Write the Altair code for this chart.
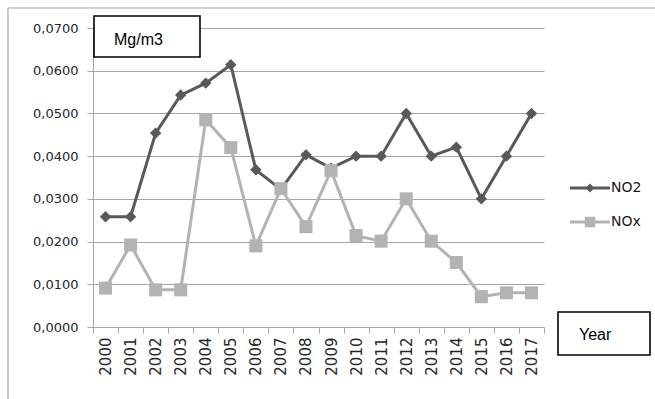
import altair as alt
import pandas as pd

years = [str(y) for y in range(2000, 2018)]
no2 = [0.0258, 0.0258, 0.0454, 0.0543, 0.0571, 0.0614, 0.0368, 0.0322, 0.0403, 0.0372,
       0.0400, 0.0400, 0.0500, 0.0400, 0.0421, 0.0300, 0.0400, 0.0500]
nox = [0.0091, 0.0192, 0.0087, 0.0087, 0.0485, 0.0420, 0.0190, 0.0324, 0.0235, 0.0366,
       0.0214, 0.0201, 0.0300, 0.0201, 0.0151, 0.0071, 0.0080, 0.0080]
series = ["NO2", "NOx"]
colors = ["#595959", "#b3b3b3"]
y_ticks = [0.0, 0.01, 0.02, 0.03, 0.04, 0.05, 0.06, 0.07]
unit_label = ["Mg/m3"]
x_label = ["Year"]

df = pd.DataFrame({
    "year": years * 2,
    "value": no2 + nox,
    "series": ["NO2"] * len(years) + ["NOx"] * len(years),
})

FONT = "DejaVu Sans"

x_enc = alt.X("year:O", bandPosition=0.5,
              scale=alt.Scale(type="band", paddingInner=0, paddingOuter=0),
              axis=alt.Axis(title=None, tickBand="extent", labelAngle=270,
                            labelFont=FONT, labelFontSize=15, labelColor="#262626",
                            labelPadding=4, tickSize=6, tickColor="#a6a6a6",
                            domainColor="#a6a6a6", grid=False))
y_enc = alt.Y("value:Q",
              scale=alt.Scale(domain=[0, 0.07], nice=False),
              axis=alt.Axis(title=None, values=y_ticks,
                            labelExpr="replace(format(datum.value, '.4f'), '.', ',')",
                            labelFont=FONT, labelFontSize=13, labelColor="#262626",
                            labelPadding=9, tickSize=6, tickColor="#a6a6a6",
                            domainColor="#a6a6a6", gridColor="#a6a6a6"))

color_scale = alt.Scale(domain=series, range=colors)

lines = alt.Chart(df).mark_line(strokeWidth=3).encode(
    x=x_enc, y=y_enc,
    color=alt.Color("series:N", scale=color_scale, legend=None),
)

points = alt.Chart(df).mark_point(filled=True, opacity=1).encode(
    x=x_enc, y=y_enc,
    color=alt.Color("series:N", scale=color_scale, legend=None),
    shape=alt.Shape("series:N", scale=alt.Scale(domain=series, range=["diamond", "square"]), legend=None),
    size=alt.Size("series:N", scale=alt.Scale(domain=series, range=[130, 170]), legend=None),
)

leg_no2 = "M-1,-0.075L1,-0.075L1,0.075L-1,0.075Z M0,-0.22L0.22,0L0,0.22L-0.22,0Z"
leg_nox = "M-1,-0.075L1,-0.075L1,0.075L-1,0.075Z M-0.26,-0.26L0.26,-0.26L0.26,0.26L-0.26,0.26Z"

legend_layer = alt.Chart(df).transform_filter("false").mark_point(filled=True, opacity=1).encode(
    x=x_enc, y=y_enc,
    color=alt.Color("series:N", scale=color_scale,
                    legend=alt.Legend(title=None, orient="none", legendX=477, legendY=150,
                                      symbolSize=1600, clipHeight=20, rowPadding=14,
                                      labelOffset=1, labelFont=FONT, labelFontSize=14,
                                      labelColor="#1a1a1a", symbolStrokeWidth=0,
                                      symbolOpacity=1, padding=0)),
    shape=alt.Shape("series:N", scale=alt.Scale(domain=series, range=[leg_no2, leg_nox]),
                    legend=alt.Legend(title=None, orient="none", legendX=477, legendY=150,
                                      symbolSize=1600, clipHeight=20, rowPadding=14,
                                      labelOffset=1, labelFont=FONT, labelFontSize=14,
                                      labelColor="#1a1a1a", symbolStrokeWidth=0,
                                      symbolOpacity=1, padding=0)),
)

unit_df = pd.DataFrame({"label": unit_label})
unit_box = alt.Chart(unit_df).mark_rect(fill="white", stroke="black", strokeWidth=1.6).encode(
    x=alt.value(1), x2=alt.value(107), y=alt.value(-12), y2=alt.value(29))
unit_text = alt.Chart(unit_df).mark_text(font="Liberation Sans", fontSize=16, align="left",
                                         baseline="middle", color="#000000").encode(
    x=alt.value(21), y=alt.value(12), text="label:N")

year_df = pd.DataFrame({"label": x_label})
year_box = alt.Chart(year_df).mark_rect(fill="white", stroke="black", strokeWidth=1.6).encode(
    x=alt.value(465), x2=alt.value(557), y=alt.value(284), y2=alt.value(327))
year_text = alt.Chart(year_df).mark_text(font="Liberation Sans", fontSize=16, align="left",
                                         baseline="middle", color="#000000").encode(
    x=alt.value(486), y=alt.value(307), text="label:N")

border_df = pd.DataFrame({"label": ["frame"]})
left_border = alt.Chart(border_df).mark_rule(color="#a6a6a6", strokeWidth=1.2).encode(
    x=alt.value(-85), y=alt.value(-20), y2=alt.value(380))
top_border = alt.Chart(border_df).mark_rule(color="#a6a6a6", strokeWidth=1.2).encode(
    x=alt.value(-85), x2=alt.value(570), y=alt.value(-20))

chart = alt.layer(
    left_border, top_border, lines, points, legend_layer,
    unit_box, unit_text, year_box, year_text,
).resolve_scale(
    color="independent", shape="independent", size="independent"
).properties(
    width=451, height=299,
    autosize=alt.AutoSizeParams(type="none"),
    padding={"left": 93, "top": 28, "right": 111, "bottom": 72},
    background="white",
).configure_view(stroke=None)

chart.save("out.html", embed_options={"renderer": "svg", "actions": False})
